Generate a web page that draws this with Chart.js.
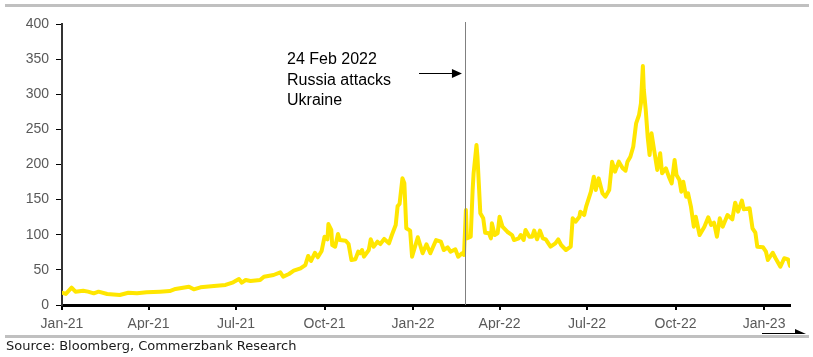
<!DOCTYPE html>
<html>
<head>
<meta charset="utf-8">
<script src="https://cdn.jsdelivr.net/npm/chart.js@4"></script>
<style>
html,body{margin:0;padding:0;background:#fff;}
#wrap{width:813px;height:357px;position:relative;}
</style>
</head>
<body>
<div id="wrap"><canvas id="c" width="813" height="357"></canvas></div>
<script>
// Days since 1 Jan 2021
const dayOffsets = [0,4,10,14,22,27,33,38,47,60,69,78,88,102,112,118,132,137,144,158,170,178,184,187,191,196,206,210,220,227,230,236,241,248,253,256,259,263,266,270,273,276,277,280,281,284,287,289,295,298,301,305,308,310,312,314,319,321,324,328,331,335,340,343,347,349,351,354,356,358,362,364,370,375,379,383,389,394,397,401,
404,409,412,416,418,420,421,425,427,428,431,432,435,438,440,444,446,447,450,453,455,458,463,468,470,475,477,480,482,486,489,491,494,497,500,503,508,513,516,519,524,529,531,534,538,539,543,545,550,553,555,558,562,565,569,572,575,579,583,586,588,591,594,597,600,602,604,605,607,609,611,613,616,619,622,624,628,631,634,637,639,642,644,646,649,651,654,657,659,663,668,672,675,678,681,684,687,692,697,700,703,707,709,715,718,721,723,729,732,734,739,742,747,751,755,757];
const values = [17.5,15.7,24.6,19,20.4,19,16.6,19,15.7,14.2,17.5,16.6,18,19,19.9,22.8,26.1,22.3,25.2,27,28.5,32.3,37,31.8,35.6,34.2,35.6,40.3,42.7,46.5,40.3,44.1,48.8,52.2,56.9,69.8,62.6,74.4,67.9,76.9,97.2,93.5,115.3,106.8,85.4,83,101,92.5,91.5,86.8,64,65,75.9,73.6,78.3,68.8,78.3,93.5,83,90.1,86.8,94,87.8,99.6,113.9,140.9,143.8,180.3,173.2,109.2,105.8,68.8,96.4,73.6,86.4,73.6,92.5,90.1,78.3,82.1,
75.9,79.3,68.8,73.6,71.2,135.2,94.9,97.2,163.7,187.4,227.8,211.1,130.5,123.4,102.9,102,94.9,116.3,99.6,102,125.7,111.5,104.3,99.6,92.5,94.9,99.6,92.5,106.8,97.2,97.2,105.8,93.5,105.8,94.9,93.5,83,87.8,93.5,85.4,78.3,83,123.4,118.6,125.7,132.8,128.1,140,161.3,182.6,163.7,180.3,159,154.2,163.7,204,189.8,204,194.6,191.2,204,211.1,225.3,258.6,270.5,287.1,340.2,306,277.6,239.6,213.5,244.4,218.2,192.2,215.9,187.4,194.6,182.6,173.2,206.4,185,177.9,161.3,175.5,154.2,159,140,111.5,125.7,99.6,111.5,124.8,113.9,117.2,97.2,123.4,111.5,128.1,122,145.6,132.8,148.5,136.2,137.6,109.2,102.9,83,82.1,75.9,64.1,74.4,66.5,54.5,66.5,65,55.5];
const xTickDays = [0,90,181,273,365,455,546,638,730];
const xTickLabels = ["Jan-21","Apr-21","Jul-21","Oct-21","Jan-22","Apr-22","Jul-22","Oct-22","Jan-23"];
const invasionDay = 419;
const annotationLines = ["24 Feb 2022","Russia attacks","Ukraine"];
const sourceText = "Source: Bloomberg, Commerzbank Research";

const points = dayOffsets.map((d,i)=>({x:d,y:values[i]}));

const decor = {
  id:'decor',
  beforeDraw(chart){
    const ctx = chart.ctx;
    ctx.save();
    ctx.fillStyle='#fff';
    ctx.fillRect(0,0,chart.width,chart.height);
    ctx.restore();
  },
  afterDatasetsDraw(chart){
    const ctx = chart.ctx;
    const xs = chart.scales.x, ys = chart.scales.y;
    ctx.save();
    const vx = Math.round(xs.getPixelForValue(invasionDay))+0.5;
    ctx.strokeStyle='#808080'; ctx.lineWidth=1;
    ctx.beginPath(); ctx.moveTo(vx, ys.getPixelForValue(400)-2); ctx.lineTo(vx, ys.getPixelForValue(0)); ctx.stroke();
    ctx.restore();
  },
  afterDraw(chart){
    const ctx = chart.ctx;
    const xs = chart.scales.x;
    ctx.save();
    ctx.fillStyle='#c0c0c0';
    ctx.fillRect(5,4,804,3);
    ctx.fillRect(5,335,804,3);
    ctx.fillStyle='#000';
    ctx.font='16px "Liberation Sans", Arial, sans-serif';
    ctx.textBaseline='middle';
    ctx.textAlign='left';
    annotationLines.forEach((t,i)=>ctx.fillText(t,287,60+i*20.5));
    const vx = xs.getPixelForValue(invasionDay);
    ctx.strokeStyle='#000'; ctx.lineWidth=1.2;
    ctx.beginPath(); ctx.moveTo(419,73.5); ctx.lineTo(vx-12,73.5); ctx.stroke();
    ctx.beginPath(); ctx.moveTo(vx-3,73.5); ctx.lineTo(vx-13,69); ctx.lineTo(vx-13,78); ctx.closePath(); ctx.fill();
    ctx.beginPath(); ctx.moveTo(762,333.5); ctx.lineTo(796,333.5); ctx.stroke();
    ctx.beginPath(); ctx.moveTo(806,334); ctx.lineTo(795,329); ctx.lineTo(795,334); ctx.closePath(); ctx.fill();
    ctx.fillStyle='#1a1a1a';
    ctx.font='13px "DejaVu Sans", Verdana, sans-serif';
    ctx.textBaseline='middle';
    ctx.fillText(sourceText,6,347);
    ctx.restore();
  }
};

new Chart(document.getElementById('c'),{
  type:'line',
  data:{datasets:[{data:points,borderColor:'#FFE600',borderWidth:4,pointRadius:0,tension:0,fill:false,borderJoinStyle:'round',borderCapStyle:'round'}]},
  options:{
    responsive:false,animation:false,
    layout:{padding:{left:0,top:24,right:23,bottom:27}},
    plugins:{legend:{display:false},tooltip:{enabled:false}},
    scales:{
      x:{type:'linear',min:0,max:757,
        afterBuildTicks(s){s.ticks=xTickDays.map(v=>({value:v}));},
        afterFit(s){s.height=25;},
        ticks:{autoSkip:false,maxRotation:0,color:'#595959',padding:6,font:{family:'"Liberation Sans", Arial, sans-serif',size:14},
          callback:(v,i)=>xTickLabels[i]},
        grid:{drawOnChartArea:false,drawTicks:true,tickLength:5,tickColor:'#000',lineWidth:2},
        border:{display:true,color:'#000',width:3}
      },
      y:{min:0,max:400,
        afterFit(s){s.width=62;},
        ticks:{stepSize:50,color:'#595959',padding:7,font:{family:'"Liberation Sans", Arial, sans-serif',size:14}},
        grid:{drawOnChartArea:false,drawTicks:true,tickLength:6,tickColor:'#000',lineWidth:1},
        border:{display:true,color:'#333',width:2}
      }
    }
  },
  plugins:[decor]
});
</script>
</body>
</html>
